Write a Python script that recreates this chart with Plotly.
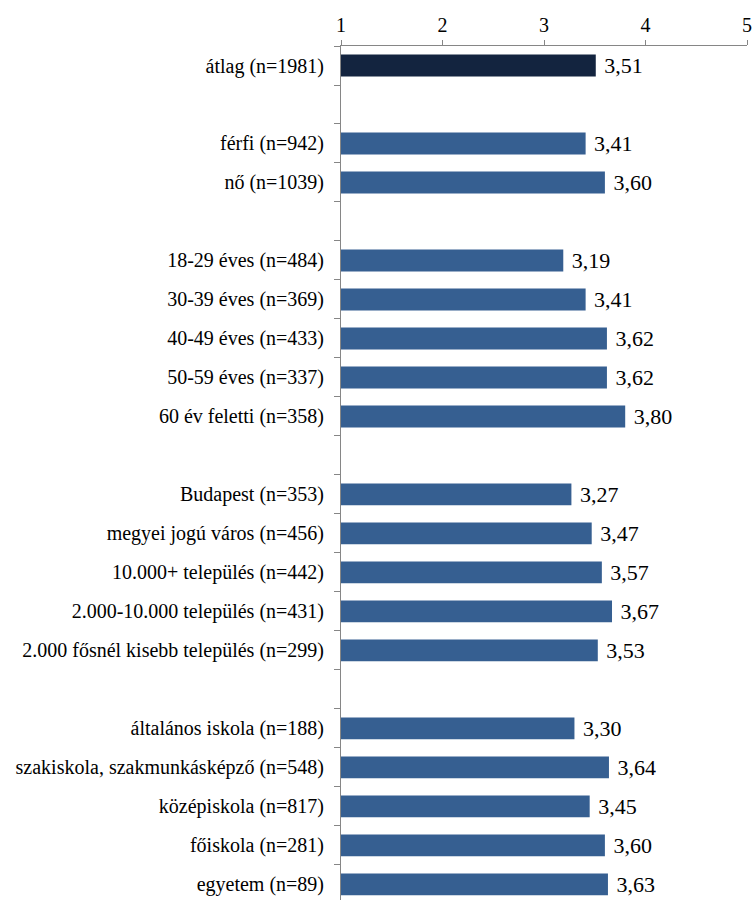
import plotly.graph_objects as go

categories = [
    "átlag (n=1981)", " ",
    "férfi (n=942)", "nő (n=1039)", "  ",
    "18-29 éves (n=484)", "30-39 éves (n=369)", "40-49 éves (n=433)",
    "50-59 éves (n=337)", "60 év feletti (n=358)", "   ",
    "Budapest (n=353)", "megyei jogú város (n=456)", "10.000+ település (n=442)",
    "2.000-10.000 település (n=431)", "2.000 fősnél kisebb település (n=299)", "    ",
    "általános iskola (n=188)", "szakiskola, szakmunkásképző (n=548)",
    "középiskola (n=817)", "főiskola (n=281)", "egyetem (n=89)",
]
values = [
    3.51, None,
    3.41, 3.60, None,
    3.19, 3.41, 3.62, 3.62, 3.80, None,
    3.27, 3.47, 3.57, 3.67, 3.53, None,
    3.30, 3.64, 3.45, 3.60, 3.63,
]
x_ticks = [1, 2, 3, 4, 5]
axis_start = 1

SERIF = "Liberation Serif"

colors = ["#13243F" if i == 0 else "#365F91" for i in range(len(values))]
lengths = [None if v is None else v - axis_start for v in values]
labels = ["" if v is None else "\u00a0" + f"{v:.2f}".replace(".", ",") for v in values]

fig = go.Figure(go.Bar(
    y=categories, x=lengths, base=axis_start, orientation="h",
    marker=dict(color=colors, line=dict(width=0)),
    text=labels, textposition="outside", cliponaxis=False, constraintext="none",
    textfont=dict(family=SERIF, size=22, color="black"),
    hoverinfo="skip",
))

fig.update_layout(
    width=753, height=900,
    margin=dict(l=341, r=6, t=46, b=0),
    paper_bgcolor="white", plot_bgcolor="white",
    bargap=0.44, showlegend=False,
    font=dict(family=SERIF, size=20, color="black"),
)
fig.update_xaxes(
    side="top", range=[1, 5], tickvals=x_ticks, ticktext=[str(t) for t in x_ticks],
    showgrid=False, zeroline=False, showline=True, linecolor="#868686", linewidth=1,
    ticks="outside", ticklen=5, tickcolor="#868686",
    tickfont=dict(family=SERIF, size=20, color="black"),
)
fig.update_yaxes(
    type="category", categoryorder="array", categoryarray=categories,
    range=[21.4, -0.5], showgrid=False, zeroline=False,
    showline=True, linecolor="#868686", linewidth=1,
    ticks="outside", ticklen=6, tickcolor="#868686", tickson="boundaries",
    ticklabelstandoff=12,
    tickfont=dict(family=SERIF, size=20, color="black"),
)

fig.write_html("out.html")
